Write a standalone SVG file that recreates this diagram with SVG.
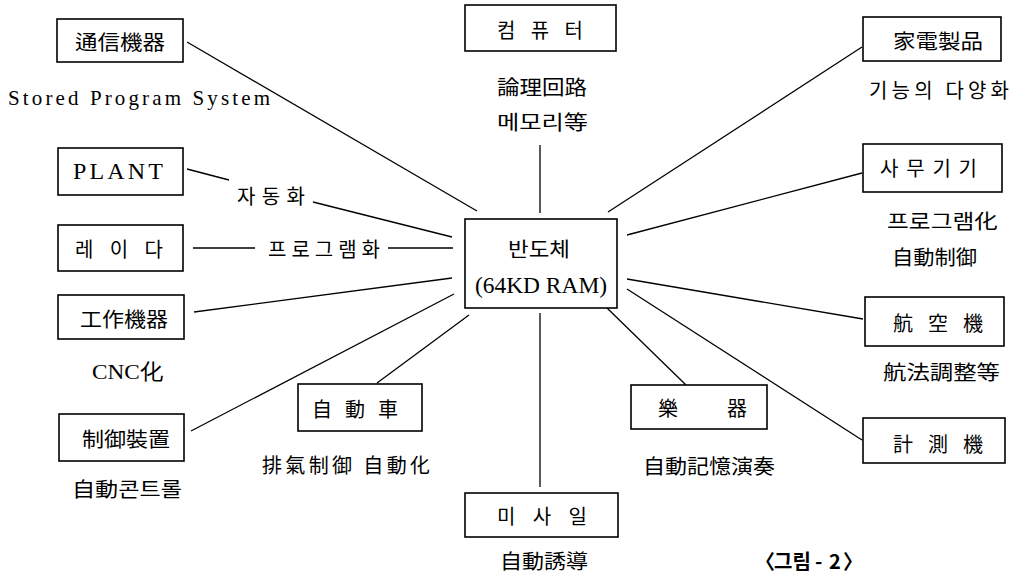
<svg xmlns="http://www.w3.org/2000/svg" width="1023" height="575" viewBox="0 0 1023 575">
<style>
.box{fill:#fff;stroke:#000;stroke-width:1.6}
.ln{stroke:#000;stroke-width:1.3;fill:none}
.k{font-family:"Noto Sans CJK KR","Noto Sans CJK JP",sans-serif;font-size:20px;fill:#000;dominant-baseline:central;text-anchor:start}
.s{font-family:"Liberation Serif",serif;fill:#000;dominant-baseline:central;text-anchor:start}
</style>
<rect width="1023" height="575" fill="#fff"/>
<g id="connectors">
<line class="ln" x1="187" y1="42" x2="477" y2="211"/>
<line class="ln" x1="187" y1="169" x2="229" y2="180"/>
<line class="ln" x1="313" y1="202" x2="452" y2="237"/>
<line class="ln" x1="193" y1="248" x2="255" y2="248"/>
<line class="ln" x1="388" y1="248" x2="453" y2="248"/>
<line class="ln" x1="194" y1="312" x2="452" y2="278"/>
<line class="ln" x1="191" y1="431" x2="454" y2="294"/>
<line class="ln" x1="377" y1="383" x2="469" y2="315"/>
<line class="ln" x1="540" y1="313" x2="540" y2="487"/>
<line class="ln" x1="540" y1="145" x2="540" y2="213"/>
<line class="ln" x1="862" y1="47" x2="608" y2="212"/>
<line class="ln" x1="862" y1="173" x2="627" y2="235"/>
<line class="ln" x1="627" y1="279" x2="863" y2="319"/>
<line class="ln" x1="627" y1="289" x2="862" y2="440"/>
<line class="ln" x1="607" y1="308" x2="686" y2="385"/>
</g>
<g id="n-center"><rect class="box" x="465" y="219" width="152" height="89"/>
<text class="k" x="508" y="248" textLength="62" lengthAdjust="spacingAndGlyphs">반도체</text>
<text class="s" x="475" y="285" font-size="23" textLength="132" lengthAdjust="spacingAndGlyphs">(64KD RAM)</text></g>
<g id="n-tongsin"><rect class="box" x="57" y="19" width="126" height="43"/>
<text class="k" x="75" y="41" textLength="90" lengthAdjust="spacingAndGlyphs">通信機器</text></g>
<text class="s" x="8" y="98" font-size="21" textLength="262" lengthAdjust="spacing">Stored Program System</text>
<g id="n-plant"><rect class="box" x="58" y="148" width="125" height="47"/>
<text class="s" x="73" y="171" font-size="24" textLength="90" lengthAdjust="spacing">PLANT</text></g>
<text class="k" x="237" y="195" textLength="68" lengthAdjust="spacing">자동화</text>
<g id="n-radar"><rect class="box" x="58" y="225" width="125" height="46"/>
<text class="k" x="75" y="248" textLength="88" lengthAdjust="spacing">레 이 다</text></g>
<text class="k" x="268" y="248" textLength="112" lengthAdjust="spacing">프로그램화</text>
<g id="n-machine"><rect class="box" x="58" y="295" width="126" height="44"/>
<text class="k" x="80" y="318" textLength="88" lengthAdjust="spacingAndGlyphs">工作機器</text></g>
<text class="s" x="92" y="371" font-size="22" textLength="71" lengthAdjust="spacingAndGlyphs">CNC化</text>
<g id="n-control"><rect class="box" x="59" y="414" width="125" height="47"/>
<text class="k" x="82" y="438" textLength="88" lengthAdjust="spacingAndGlyphs">制御裝置</text></g>
<text class="k" x="72" y="488" textLength="110" lengthAdjust="spacingAndGlyphs">自動콘트롤</text>
<g id="n-computer"><rect class="box" x="465" y="5" width="151" height="46"/>
<text class="k" x="497" y="29" textLength="86" lengthAdjust="spacing">컴 퓨 터</text></g>
<text class="k" x="497" y="86" textLength="90" lengthAdjust="spacingAndGlyphs">論理回路</text>
<text class="k" x="497" y="121" textLength="91" lengthAdjust="spacingAndGlyphs">메모리等</text>
<g id="n-home"><rect class="box" x="863" y="17" width="138" height="44"/>
<text class="k" x="893" y="40" textLength="90" lengthAdjust="spacingAndGlyphs">家電製品</text></g>
<text class="k" x="869" y="89" textLength="140" lengthAdjust="spacing">기능의 다양화</text>
<g id="n-office"><rect class="box" x="863" y="144" width="139" height="48"/>
<text class="k" x="880" y="167" textLength="97" lengthAdjust="spacing">사무기기</text></g>
<text class="k" x="887" y="220" textLength="111" lengthAdjust="spacingAndGlyphs">프로그램化</text>
<text class="k" x="892" y="256" textLength="85" lengthAdjust="spacingAndGlyphs">自動制御</text>
<g id="n-aircraft"><rect class="box" x="865" y="297" width="139" height="49"/>
<text class="k" x="893" y="322" textLength="90" lengthAdjust="spacing">航 空 機</text></g>
<text class="k" x="883" y="371" textLength="117" lengthAdjust="spacingAndGlyphs">航法調整等</text>
<g id="n-measure"><rect class="box" x="863" y="418" width="142" height="45"/>
<text class="k" x="893" y="443" textLength="90" lengthAdjust="spacing">計 測 機</text></g>
<g id="n-car"><rect class="box" x="298" y="384" width="124" height="47"/>
<text class="k" x="312" y="408" textLength="86" lengthAdjust="spacing">自 動 車</text></g>
<text class="k" x="262" y="464" textLength="168" lengthAdjust="spacing">排氣制御 自動化</text>
<g id="n-instrument"><rect class="box" x="631" y="385" width="136" height="44"/>
<text class="k" x="658" y="407">樂</text>
<text class="k" x="727" y="407">器</text></g>
<text class="k" x="643" y="465" textLength="132" lengthAdjust="spacingAndGlyphs">自動記憶演奏</text>
<g id="n-missile"><rect class="box" x="465" y="493" width="153" height="44"/>
<text class="k" x="497" y="515" textLength="90" lengthAdjust="spacing">미 사 일</text></g>
<text class="k" x="500" y="560" textLength="88" lengthAdjust="spacingAndGlyphs">自動誘導</text>
<text class="k" y="560" font-weight="bold"><tspan x="755">〈</tspan><tspan x="774">그림</tspan><tspan x="815">-</tspan><tspan x="829">2</tspan><tspan x="843">〉</tspan></text>
</svg>
